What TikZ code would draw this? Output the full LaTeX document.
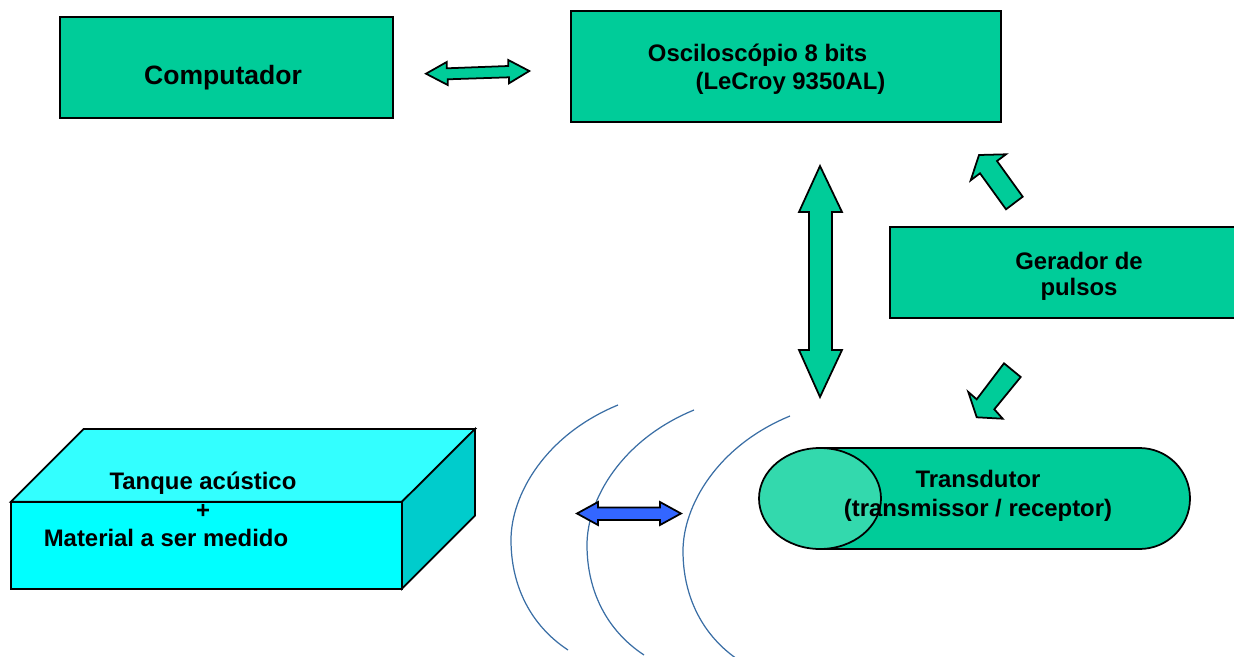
\documentclass[tikz,border=0pt]{standalone}
\usepackage{fontspec}
\setmainfont{Liberation Sans}
\definecolor{verde}{HTML}{00CC99}
\definecolor{verdeclaro}{HTML}{33D9AD}
\definecolor{azul}{HTML}{3366FF}
\definecolor{onda}{HTML}{3A6EA5}
\definecolor{ciano}{HTML}{00FFFF}
\definecolor{cianoclaro}{HTML}{33FFFF}
\definecolor{cianoescuro}{HTML}{00CCCC}
\tikzset{
  caixa/.style={draw=black, line width=1pt, fill=verde},
  seta/.style={draw=black, line width=1pt, fill=verde, line join=miter},
  texto/.style={font=\fontsize{13.6}{16}\selectfont\bfseries, inner sep=0pt},
}
\begin{document}
\begin{tikzpicture}[x=0.02cm, y=-0.02cm]
    \useasboundingbox (0, 0) rectangle (1234, 656);
    % caixas
    \draw[caixa] (60, 17) rectangle (393, 118);
    \draw[caixa] (571, 11) rectangle (1001, 122);
    \draw[caixa] (890, 227) rectangle (1240, 318);
    \node[texto, font=\fontsize{15.1}{18}\selectfont\bfseries] (computador) at (223, 78) {Computador};
    \node[texto] (osciloscopio) at (757.5, 55) {Osciloscópio 8 bits};
    \node[texto] (lecroy) at (790.5, 83) {(LeCroy 9350AL)};
    \node[texto] (gerador) at (1079, 261) {Gerador de};
    \node[texto] (pulsos) at (1079, 289) {pulsos};
    % setas
    \draw[seta] (426, 73.7) -- (446.7, 62) -- (446.7, 68.3) -- (508.3, 66) -- (508.3, 60) -- (529.3, 71)
        -- (509, 83.3) -- (509, 77.3) -- (447.7, 79.3) -- (447.7, 85) -- cycle;
    \draw[seta] (820, 166) -- (842, 212) -- (832, 212) -- (832, 350) -- (842, 350) -- (820, 397)
        -- (799, 350) -- (809, 350) -- (809, 212) -- (799, 212) -- cycle;
    \draw[seta] (979, 155) -- (1006, 154.3) -- (997, 161) -- (1022.7, 196.7) -- (1006, 209.3)
        -- (980, 173.3) -- (970.7, 180.3) -- cycle;
    \draw[seta] (1004, 363.3) -- (1020.7, 377) -- (994.3, 409.3) -- (1002.7, 418.7) -- (976.7, 417.3)
        -- (968.3, 392) -- (976.7, 399.3) -- cycle;
    % transdutor
    \draw[caixa] (820, 448) -- (1139.5, 448) arc[start angle=-90, end angle=90, radius=50.5]
        -- (820, 549) -- cycle;
    \draw[caixa, fill=verdeclaro] (820, 498.5) ellipse [x radius=61, y radius=50.5];
    \node[texto] (transdutor) at (978, 479) {Transdutor};
    \node[texto] (receptor) at (978, 510) {(transmissor / receptor)};
    % ondas
    \foreach \dx/\dy in {0/0, 76/5, 172/11}
        \draw[onda, line width=0.7pt, shift={(\dx, \dy)}] (618, 405) .. controls (545, 435) and (511, 495) .. (511, 540)
            .. controls (511, 585) and (530, 625) .. (568, 650);
    \draw[seta, fill=azul] (577, 513.5) -- (598, 502) -- (598, 507.5) -- (660, 507.5) -- (660, 502) -- (681, 513.5)
        -- (660, 525) -- (660, 520) -- (598, 520) -- (598, 525) -- cycle;
    % tanque
    \draw[caixa, fill=ciano] (11, 501.7) rectangle (402, 588.7);
    \draw[caixa, fill=cianoclaro] (11, 501.7) -- (83.5, 429) -- (475, 429) -- (402, 501.7) -- cycle;
    \draw[caixa, fill=cianoescuro] (402, 501.7) -- (475, 429) -- (475, 515.7) -- (402, 588.7) -- cycle;
    \node[texto] (tanque) at (203, 483) {Tanque acústico};
    \node[texto] (mais) at (203, 511) {+};
    \node[texto] (material) at (166, 538) {Material a ser medido};
\end{tikzpicture}
\end{document}
